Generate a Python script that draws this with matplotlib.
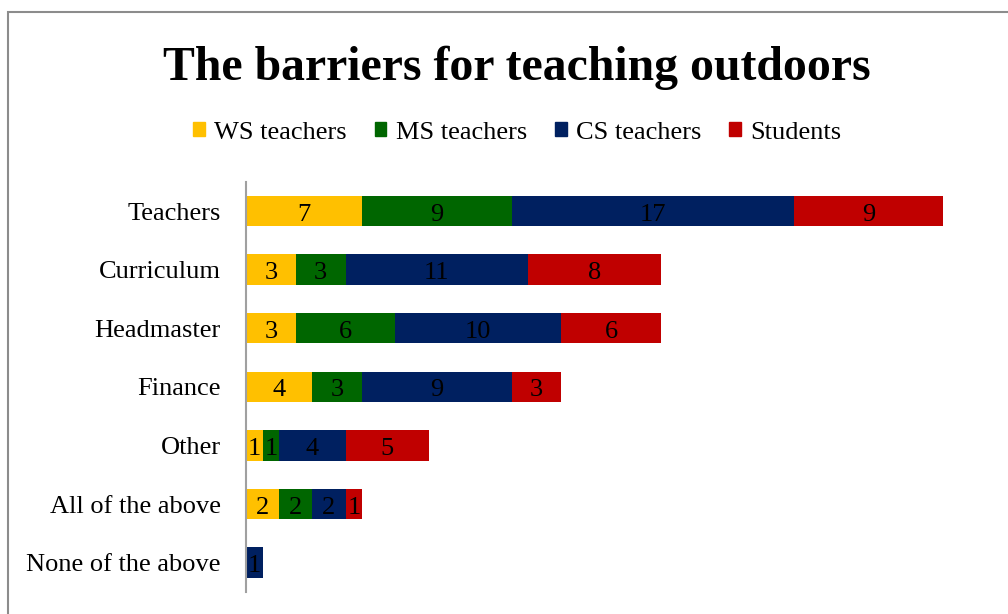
import matplotlib.pyplot as plt
from matplotlib.patches import Patch, Rectangle

# categories, top to bottom
categories = ['Teachers', 'Curriculum', 'Headmaster', 'Finance', 'Other',
              'All of the above', 'None of the above']
series_names = ['WS teachers', 'MS teachers', 'CS teachers', 'Students']
ws_teachers = [7, 3, 3, 4, 1, 2, 0]
ms_teachers = [9, 3, 6, 3, 1, 2, 0]
cs_teachers = [17, 11, 10, 9, 4, 2, 1]
students = [9, 8, 6, 3, 5, 1, 0]
colors = ['#FFC000', '#006600', '#002060', '#C00000']

plt.rcParams['font.family'] = ['Liberation Serif', 'DejaVu Serif']

fig = plt.figure(figsize=(10.08, 6.14), dpi=100)
ax = fig.add_axes([0.244, 0.036, 0.741, 0.668])

# outer chart frame
fig.patches.append(Rectangle((8 / 1008, -0.2), 1.2, (614 - 12) / 614 + 0.2,
                             transform=fig.transFigure, fill=False,
                             edgecolor='#8c8c8c', linewidth=1.5))

ypos = list(range(len(categories)))
left = [0] * len(categories)
for name, vals, col in zip(series_names,
                           [ws_teachers, ms_teachers, cs_teachers, students],
                           colors):
    ax.barh(ypos, vals, left=left, height=0.52, color=col, label=name)
    for y, v, l in zip(ypos, vals, left):
        if v > 0:
            ax.text(l + v / 2, y + 0.02, str(v), ha='center',
                    va='center_baseline', fontsize=19, color='black')
    left = [a + b for a, b in zip(left, vals)]

ax.set_xlim(0, 45)
ax.set_ylim(6.5, -0.5)
ax.set_yticks(ypos)
ax.set_yticklabels(categories, fontsize=19)
ax.tick_params(axis='y', length=0, pad=18)
ax.set_xticks([])
for side in ['top', 'right', 'bottom']:
    ax.spines[side].set_visible(False)
ax.spines['left'].set_color('#a0a0a0')
ax.spines['left'].set_linewidth(1.5)

fig.text(0.513, 0.89, 'The barriers for teaching outdoors', ha='center',
         va='center', fontsize=34.4, fontweight='bold')

handles = [Patch(color=c) for c in colors]
fig.legend(handles, series_names, loc='center', bbox_to_anchor=(0.513, 0.784),
           ncol=4, frameon=False, fontsize=19, handlelength=0.45,
           handleheight=0.45, handletextpad=0.35, columnspacing=1.05)

fig.savefig('out.png', dpi=100)
